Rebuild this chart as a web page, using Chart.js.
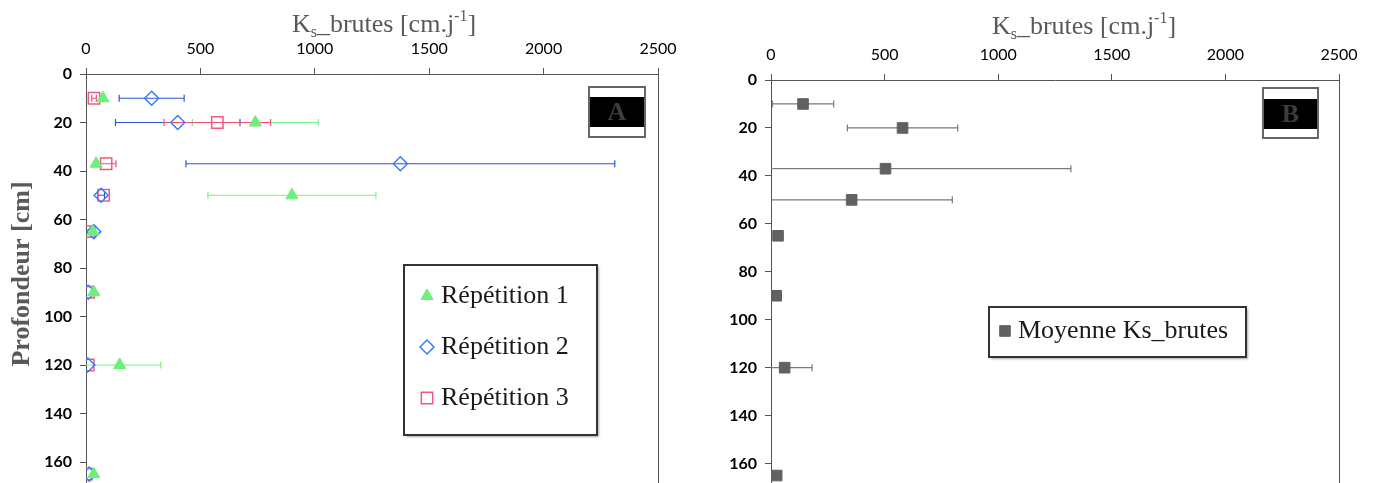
<!DOCTYPE html>
<html lang="fr">
<head>
<meta charset="utf-8">
<title>Ks brutes - profondeur</title>
<script src="https://cdn.jsdelivr.net/npm/chart.js@4/dist/chart.umd.min.js"></script>
<style>
    html, body { margin: 0; padding: 0; background: #fff; overflow: hidden; }
    #wrap { position: relative; width: 1374px; height: 483px; }
    .panel { position: absolute; top: 0; width: 687px; height: 520px; }
    #pA { left: 0; }
    #pB { left: 687px; }
</style>
</head>
<body>
<div id="wrap">
    <div class="panel" id="pA"><canvas id="graficoA"></canvas></div>
    <div class="panel" id="pB"><canvas id="graficoB"></canvas></div>
</div>

<script>
/* ===== DONNÉES ===== */

const profondeurs = [10, 20, 37, 50, 65, 90, 120, 165];

const repetition1 = [74, 740, 44, 900, 30, 34, 147, 34];
const erreur1     = [0, 275, 0, 367, 0, 0, 180, 0];

const repetition2 = [287, 401, 1374, 66, 34, 10, 8, 14];
const erreur2     = [142, 272, 937, 15, 0, 0, 0, 0];

const repetition3 = [35, 574, 88, 77, 14, 12, 10, 2];
const erreur3     = [10, 233, 43, 0, 0, 0, 0, 0];

const moyenne     = [141, 579, 504, 355, 31, 23, 60, 25];
const erreurMoy   = [135, 243, 816, 443, 0, 0, 121, 0];

const ticksX = [0, 500, 1000, 1500, 2000, 2500];
const ticksY = [0, 20, 40, 60, 80, 100, 120, 140, 160];
const profondeurMax = 180;

/* ===== OUTILS ===== */

function points(valeurs) {
    return valeurs.map((v, i) => ({ x: v, y: profondeurs[i] }));
}

function dessinerMarqueur(ctx, ds, x, y) {
    ctx.save();
    ctx.fillStyle = ds.backgroundColor;
    ctx.strokeStyle = ds.borderColor;
    ctx.lineWidth = ds.borderWidth;
    Chart.helpers.drawPoint(ctx, {
        pointStyle: ds.pointStyle,
        radius: ds.pointRadius,
        rotation: 0,
        borderWidth: ds.borderWidth
    }, x, y);
    ctx.restore();
}

// Titre Ks_brutes [cm.j-1] avec indice et exposant
function dessinerTitreX(ctx, cx, base) {
    const morceaux = [
        { t: 'K', f: '26px "Liberation Serif"', dy: 0 },
        { t: 's', f: '16px "Liberation Serif"', dy: 5 },
        { t: '_brutes [cm.j', f: '26px "Liberation Serif"', dy: 0 },
        { t: '-1', f: '16px "Liberation Serif"', dy: -11 },
        { t: ']', f: '26px "Liberation Serif"', dy: 0 }
    ];
    ctx.save();
    ctx.fillStyle = '#595959';
    ctx.textBaseline = 'alphabetic';
    ctx.textAlign = 'left';
    let total = 0;
    morceaux.forEach(m => { ctx.font = m.f; m.w = ctx.measureText(m.t).width; total += m.w; });
    let x = cx - total / 2;
    morceaux.forEach(m => {
        ctx.font = m.f;
        ctx.fillText(m.t, x, base + m.dy);
        x += m.w;
    });
    ctx.restore();
}

/* ===== PLUGIN : barres d'erreur, cadre, légende, titres ===== */

const decorations = {
    id: 'decorations',
    beforeDatasetsDraw(chart) {
        const { ctx, chartArea: a, scales } = chart;
        ctx.save();
        ctx.beginPath();
        ctx.rect(a.left, a.top, a.right - a.left, a.bottom - a.top);
        ctx.clip();
        chart.data.datasets.forEach(ds => {
            if (!ds.erreurs) return;
            ctx.strokeStyle = ds.couleurErreur;
            ctx.lineWidth = 1.2;
            ds.data.forEach((p, i) => {
                const e = ds.erreurs[i];
                if (!e) return;
                const y = scales.y.getPixelForValue(p.y);
                const x1 = scales.x.getPixelForValue(p.x - e);
                const x2 = scales.x.getPixelForValue(p.x + e);
                ctx.beginPath();
                ctx.moveTo(x1, y); ctx.lineTo(x2, y);
                ctx.moveTo(x1, y - 3.5); ctx.lineTo(x1, y + 3.5);
                ctx.moveTo(x2, y - 3.5); ctx.lineTo(x2, y + 3.5);
                ctx.stroke();
            });
        });
        ctx.restore();
    },
    afterDraw(chart, args, opts) {
        const { ctx, chartArea: a } = chart;

        // bord droit
        ctx.save();
        ctx.strokeStyle = '#555';
        ctx.lineWidth = 1;
        ctx.beginPath();
        ctx.moveTo(a.right + 0.5, a.top);
        ctx.lineTo(a.right + 0.5, a.bottom);
        ctx.stroke();

        // étiquette A / B
        const c = opts.cadre;
        ctx.fillStyle = '#fff';
        ctx.fillRect(c.x, c.y, c.w, c.h);
        ctx.fillStyle = '#000';
        ctx.fillRect(c.x, c.bandeY, c.w, c.bandeH);
        ctx.strokeStyle = '#666';
        ctx.lineWidth = 2;
        ctx.strokeRect(c.x, c.y, c.w, c.h);
        ctx.fillStyle = '#3c3c3c';
        ctx.font = 'bold 26px "Liberation Serif"';
        ctx.textAlign = 'center';
        ctx.textBaseline = 'middle';
        ctx.fillText(c.lettre, c.x + c.w / 2, c.bandeY + c.bandeH / 2 + 1);

        // légende
        const l = opts.legende;
        ctx.save();
        ctx.shadowColor = 'rgba(0,0,0,0.35)';
        ctx.shadowOffsetX = 2;
        ctx.shadowOffsetY = 2;
        ctx.shadowBlur = 2;
        ctx.fillStyle = '#fff';
        ctx.fillRect(l.x, l.y, l.w, l.h);
        ctx.restore();
        ctx.strokeStyle = '#333';
        ctx.lineWidth = 2;
        ctx.strokeRect(l.x, l.y, l.w, l.h);
        ctx.font = '26px "Liberation Serif"';
        ctx.textAlign = 'left';
        ctx.textBaseline = 'middle';
        chart.data.datasets.forEach((ds, i) => {
            const y = l.lignes[i];
            dessinerMarqueur(ctx, ds, l.xMarqueur, y);
            ctx.fillStyle = '#1a1a1a';
            ctx.fillText(ds.label, l.xTexte, y);
        });

        // titres d'axes
        dessinerTitreX(ctx, opts.titreX.x, opts.titreX.base);
        if (opts.titreY) {
            ctx.save();
            ctx.translate(opts.titreY.x, opts.titreY.y);
            ctx.rotate(-Math.PI / 2);
            ctx.fillStyle = '#595959';
            ctx.font = 'bold 26px "Liberation Serif"';
            ctx.textAlign = 'center';
            ctx.textBaseline = 'middle';
            ctx.fillText('Profondeur [cm]', 0, 0);
            ctx.restore();
        }
        ctx.restore();
    }
};

/* ===== GRAPHIQUES ===== */

function echelles(hauteurX, largeurY) {
    const grille = { display: true, drawOnChartArea: false, drawTicks: true, tickLength: 6, color: '#555' };
    return {
        x: {
            type: 'linear',
            position: 'top',
            min: ticksX[0],
            max: ticksX[ticksX.length - 1],
            afterBuildTicks: s => { s.ticks = ticksX.map(v => ({ value: v })); },
            afterFit: s => { s.height = hauteurX; },
            grid: grille,
            border: { display: true, color: '#555', width: 1 },
            ticks: { color: '#000', padding: 10, font: { family: 'Lato', size: 16 }, callback: v => String(v) }
        },
        y: {
            type: 'linear',
            reverse: true,
            min: ticksY[0],
            max: profondeurMax,
            afterBuildTicks: s => { s.ticks = ticksY.map(v => ({ value: v })); },
            afterFit: s => { s.width = largeurY; s.paddingTop = 0; s.paddingBottom = 0; },
            grid: grille,
            border: { display: true, color: '#555', width: 1 },
            ticks: { color: '#000', padding: 8, font: { family: 'Lato', size: 16, weight: 'bold' }, callback: v => String(v) }
        }
    };
}

new Chart(document.getElementById('graficoA'), {
    type: 'scatter',
    data: {
        datasets: [
            {
                label: 'Répétition 1',
                data: points(repetition1),
                erreurs: erreur1,
                couleurErreur: '#7ef08a',
                pointStyle: 'triangle',
                pointRadius: 7,
                backgroundColor: '#6cf07a',
                borderColor: '#6cf07a',
                borderWidth: 1
            },
            {
                label: 'Répétition 2',
                data: points(repetition2),
                erreurs: erreur2,
                couleurErreur: '#2a55d8',
                pointStyle: 'rectRot',
                pointRadius: 7,
                backgroundColor: 'rgba(255,255,255,0)',
                borderColor: '#3a7bff',
                borderWidth: 1.5
            },
            {
                label: 'Répétition 3',
                data: points(repetition3),
                erreurs: erreur3,
                couleurErreur: '#f05070',
                pointStyle: 'rect',
                pointRadius: 8,
                backgroundColor: 'rgba(255,255,255,0)',
                borderColor: '#f5577a',
                borderWidth: 1.5
            }
        ]
    },
    options: {
        responsive: true,
        maintainAspectRatio: false,
        animation: false,
        events: [],
        layout: { padding: { right: 29, bottom: 5, left: 0, top: 0 } },
        scales: echelles(74, 86),
        plugins: {
            legend: { display: false },
            tooltip: { enabled: false },
            decorations: {
                cadre: { x: 589, y: 87, w: 56, h: 50, bandeY: 97, bandeH: 30, lettre: 'A' },
                legende: { x: 404, y: 265, w: 193, h: 170, xMarqueur: 427, xTexte: 441, lignes: [296, 347, 398] },
                titreX: { x: 384, base: 32 },
                titreY: { x: 22, y: 274 }
            }
        }
    },
    plugins: [decorations]
});

new Chart(document.getElementById('graficoB'), {
    type: 'scatter',
    data: {
        datasets: [
            {
                label: 'Moyenne Ks_brutes',
                data: points(moyenne),
                erreurs: erreurMoy,
                couleurErreur: '#7a7a7a',
                pointStyle: 'rect',
                pointRadius: 7.5,
                backgroundColor: '#616161',
                borderColor: '#616161',
                borderWidth: 1
            }
        ]
    },
    options: {
        responsive: true,
        maintainAspectRatio: false,
        animation: false,
        events: [],
        layout: { padding: { right: 35, bottom: 5, left: 0, top: 0 } },
        scales: echelles(80, 84),
        plugins: {
            legend: { display: false },
            tooltip: { enabled: false },
            decorations: {
                cadre: { x: 576, y: 88, w: 55, h: 50, bandeY: 99, bandeH: 30, lettre: 'B' },
                legende: { x: 302, y: 307, w: 257, h: 50, xMarqueur: 318, xTexte: 331, lignes: [331] },
                titreX: { x: 397, base: 34 }
            }
        }
    },
    plugins: [decorations]
});
</script>
</body>
</html>
